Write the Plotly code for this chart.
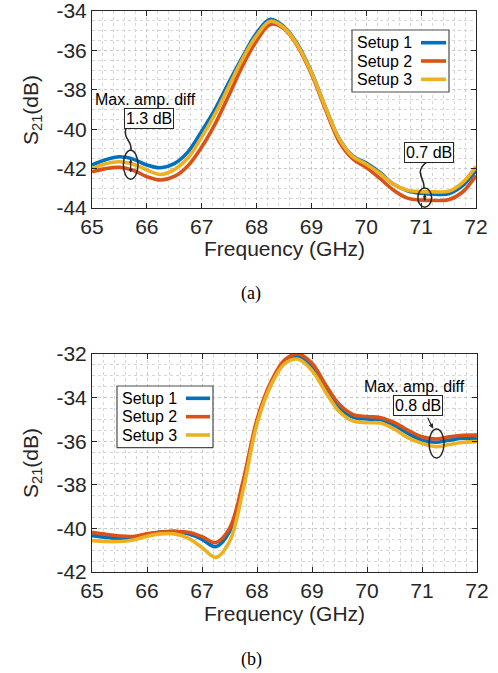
import plotly.graph_objects as go

# ---------------- data ----------------
freq = [65, 65.25, 65.5, 65.75, 66, 66.25, 66.5, 66.75, 67, 67.25, 67.5, 67.75, 68,
        68.25, 68.5, 68.75, 69, 69.25, 69.5, 69.75, 70, 70.25, 70.5, 70.75, 71,
        71.25, 71.5, 71.75, 72]

a_setup1 = [-41.82, -41.55, -41.40, -41.52, -41.82, -41.96, -41.75, -41.15, -40.10,
            -38.95, -37.60, -36.30, -35.12, -34.42, -34.80, -35.70, -37.10, -38.85,
            -40.45, -41.35, -41.72, -42.20, -42.80, -43.12, -43.25, -43.30, -43.28,
            -42.88, -42.10]
a_setup2 = [-42.16, -42.00, -41.94, -42.08, -42.41, -42.58, -42.40, -41.85, -40.90,
            -39.70, -38.25, -36.75, -35.52, -34.68, -34.90, -35.80, -37.20, -38.95,
            -40.60, -41.50, -41.95, -42.50, -43.10, -43.50, -43.60, -43.62, -43.58,
            -43.20, -42.35]
a_setup3 = [-41.99, -41.75, -41.65, -41.78, -42.07, -42.30, -42.05, -41.45, -40.40,
            -39.20, -37.80, -36.40, -35.25, -34.52, -34.85, -35.75, -37.12, -38.85,
            -40.45, -41.38, -41.78, -42.25, -42.80, -43.10, -43.17, -43.18, -43.15,
            -42.72, -41.90]

b_setup1 = [-40.33, -40.41, -40.45, -40.42, -40.27, -40.17, -40.13, -40.25, -40.50,
            -40.84, -40.15, -37.93, -35.10, -33.40, -32.38, -32.10, -32.58, -33.55,
            -34.45, -34.90, -34.98, -35.02, -35.28, -35.65, -35.95, -36.05, -35.95,
            -35.86, -35.90]
b_setup2 = [-40.18, -40.27, -40.35, -40.37, -40.25, -40.17, -40.15, -40.18, -40.38,
            -40.65, -40.00, -37.80, -35.00, -33.30, -32.28, -32.00, -32.43, -33.42,
            -34.32, -34.78, -34.87, -34.92, -35.15, -35.50, -35.80, -35.90, -35.80,
            -35.73, -35.72]
b_setup3 = [-40.56, -40.60, -40.60, -40.53, -40.36, -40.25, -40.25, -40.45, -40.88,
            -41.33, -40.60, -38.20, -35.20, -33.45, -32.45, -32.24, -32.76, -33.75,
            -34.65, -35.08, -35.15, -35.17, -35.45, -35.85, -36.10, -36.25, -36.15,
            -36.05, -36.02]

series_names = ["Setup 1", "Setup 2", "Setup 3"]
colors = ["#0072BD", "#D95319", "#EDB120"]
x_ticks = [65, 66, 67, 68, 69, 70, 71, 72]
a_yticks = [-44, -42, -40, -38, -36, -34]
b_yticks = [-42, -40, -38, -36, -34, -32]

W, H = 498, 673
def px(x):
    return x / W
def py(y):
    return 1 - y / H

TXT = "#262626"
FONT = "Liberation Sans, Arial, Helvetica, sans-serif"

fig = go.Figure()
for name, col, ya in zip(series_names, colors, [a_setup1, a_setup2, a_setup3]):
    fig.add_trace(go.Scatter(x=freq, y=ya, mode="lines", name=name, showlegend=False,
                             line=dict(color=col, width=3.6, shape="spline"),
                             xaxis="x", yaxis="y"))
for name, col, yb in zip(series_names, colors, [b_setup1, b_setup2, b_setup3]):
    fig.add_trace(go.Scatter(x=freq, y=yb, mode="lines", name=name, showlegend=False,
                             line=dict(color=col, width=3.6, shape="spline"),
                             xaxis="x2", yaxis="y2"))

def xax(domain, anchor):
    return dict(domain=domain, anchor=anchor, range=[65, 72], tickvals=x_ticks,
                ticktext=[str(v) for v in x_ticks], ticklabeloverflow="allow",
                ticks="inside", ticklen=5, tickcolor=TXT, showline=True, linecolor=TXT,
                linewidth=1, mirror="ticks", showgrid=True, gridcolor="#c8c8c8",
                griddash="dot", gridwidth=1, zeroline=False, automargin=False,
                minor=dict(dtick=0.2, tick0=65, showgrid=True, gridcolor="#d6d6d6",
                           griddash="dot", gridwidth=1),
                tickfont=dict(family=FONT, size=21, color=TXT))

def yax(domain, anchor, rng, tv):
    return dict(domain=domain, anchor=anchor, range=rng, tickvals=tv,
                ticktext=[str(v) for v in tv], ticklabelstandoff=0,
                ticklabeloverflow="allow",
                ticks="inside", ticklen=5, tickcolor=TXT, showline=True, linecolor=TXT,
                linewidth=1, mirror="ticks", showgrid=True, gridcolor="#c8c8c8",
                griddash="dot", gridwidth=1, zeroline=False, automargin=False,
                minor=dict(dtick=0.5, tick0=rng[0], showgrid=True, gridcolor="#d6d6d6",
                           griddash="dot", gridwidth=1),
                tickfont=dict(family=FONT, size=21, color=TXT))

fig.update_layout(
    width=W, height=H, margin=dict(l=0, r=0, t=0, b=0),
    paper_bgcolor="white", plot_bgcolor="white",
    xaxis=xax([px(92), px(476)], "y"),
    yaxis=yax([py(208), py(11)], "x", [-44, -34], a_yticks),
    xaxis2=xax([px(92), px(477)], "y2"),
    yaxis2=yax([py(572), py(354)], "x2", [-42, -32], b_yticks),
)

shapes = []
ann = []

def text(t, x, y, size, xref="paper", yref="paper", family=FONT, color=TXT, **kw):
    d = dict(text=t, x=x, y=y, xref=xref, yref=yref, showarrow=False,
             xanchor=kw.pop("xanchor", "center"), yanchor="middle",
             font=dict(family=family, size=size, color=color))
    d.update(kw)
    ann.append(d)

# axis titles and captions
for yc in [248, 613]:
    text("Frequency (GHz)", px(284), py(yc), 21)
for yc in [110, 463]:
    text("S<sub>21</sub>(dB)", px(32), py(yc), 21, textangle=-90)
SERIF = "Liberation Serif, Times New Roman, serif"
text("(a)", px(251), py(293), 18, family=SERIF, color="black")
text("(b)", px(251), py(659), 18, family=SERIF, color="black")

# custom legends (text left, line right)
def legend(box, ys, tx, lx):
    x0, y0, x1, y1 = box
    shapes.append(dict(type="rect", xref="paper", yref="paper", x0=px(x0), x1=px(x1),
                       y0=py(y1), y1=py(y0), line=dict(color="#4d4d4d", width=1.2),
                       fillcolor="white", layer="above"))
    for name, col, yy in zip(series_names, colors, ys):
        text(name, px(tx), py(yy), 16, color="black", xanchor="left")
        shapes.append(dict(type="line", xref="paper", yref="paper", x0=px(lx[0]), x1=px(lx[1]),
                           y0=py(yy), y1=py(yy), line=dict(color=col, width=3.6), layer="above"))

legend((352, 30, 449, 92), [42.7, 61, 79.3], 355, (421, 446))
legend((117, 386, 213, 447.6), [398.3, 416.7, 435], 120, (186, 210))

ELL = dict(color=TXT, width=1.5)
BOX = dict(bordercolor=TXT, borderwidth=1, borderpad=1, bgcolor="white")
# top annotations
text("Max. amp. diff", 65.975, -38.47, 16, xref="x", yref="y", color="black")
text("1.3 dB", 66.04, -39.48, 16, xref="x", yref="y", color="black", **BOX)
shapes.append(dict(type="circle", xref="x", yref="y", x0=65.572, x1=65.838, y0=-42.54, y1=-41.07,
                   line=ELL))
shapes.append(dict(type="path", xref="x", yref="y",
                   path="M 65.62,-39.95 C 65.56,-40.5 65.74,-40.6 65.71,-41.07", line=ELL))
ann.append(dict(text="", x=65.705, y=-42.2, ax=65.705, ay=-41.45, xref="x", yref="y",
                axref="x", ayref="y", showarrow=True, arrowhead=2, arrowside="end+start",
                arrowsize=0.6, arrowwidth=1.2, arrowcolor=TXT))
text("0.7 dB", 71.15, -41.18, 16, xref="x", yref="y", color="black", **BOX)
shapes.append(dict(type="circle", xref="x", yref="y", x0=70.94, x1=71.19, y0=-43.96, y1=-42.99,
                   line=ELL))
shapes.append(dict(type="path", xref="x", yref="y",
                   path="M 71.107,-41.66 C 70.85,-42.2 71.08,-42.5 71.05,-42.99", line=ELL))
ann.append(dict(text="", x=71.065, y=-43.65, ax=71.065, ay=-43.2, xref="x", yref="y",
                axref="x", ayref="y", showarrow=True, arrowhead=2, arrowside="end+start",
                arrowsize=0.6, arrowwidth=1.2, arrowcolor=TXT))

# bottom annotations
text("Max. amp. diff", 70.864, -33.51, 16, xref="x2", yref="y2", color="black")
text("0.8 dB", 70.927, -34.36, 16, xref="x2", yref="y2", color="black", **BOX)
shapes.append(dict(type="circle", xref="x2", yref="y2", x0=71.128, x1=71.40, y0=-36.77, y1=-35.44,
                   line=ELL))
ann.append(dict(text="", x=71.2, y=-35.42, ax=71.09, ay=-34.86, xref="x2", yref="y2",
                axref="x2", ayref="y2", showarrow=True, arrowhead=2, arrowsize=0.8,
                arrowwidth=1.2, arrowcolor=TXT))

fig.update_layout(shapes=shapes, annotations=ann)
fig.write_html("out.html", config={"displayModeBar": False},
               post_script="document.body.style.margin='0';document.body.style.overflow='hidden';")
